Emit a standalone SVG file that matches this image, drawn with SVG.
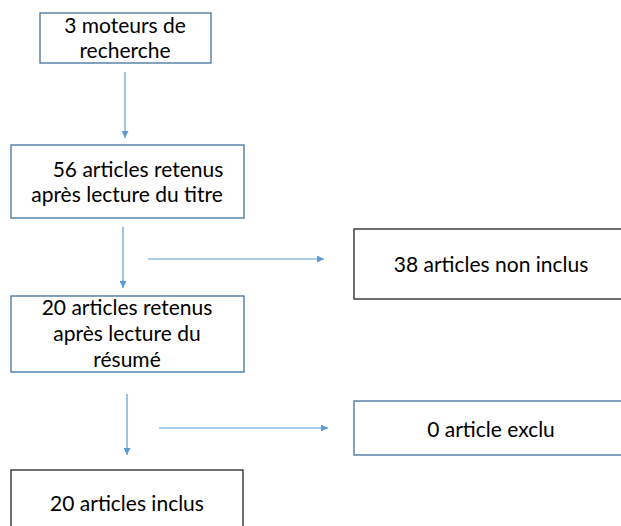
<svg xmlns="http://www.w3.org/2000/svg" width="621" height="526" viewBox="0 0 621 526">
<style>
.blue{fill:#fff;stroke:#41719C;stroke-width:1.3}
.dark{fill:#fff;stroke:#222;stroke-width:1.3}
.t{font-family:Lato,"Liberation Sans",sans-serif;font-size:21px;fill:#000;text-anchor:middle}
.c{stroke:#5B9BD5;stroke-width:1.2;fill:none;marker-end:url(#ah)}
</style>
<defs>
<marker id="ah" viewBox="0 0 10 10" refX="10" refY="5" markerWidth="7" markerHeight="7" markerUnits="userSpaceOnUse" orient="auto">
<path d="M0,0 L10,5 L0,10 z" fill="#5B9BD5"/>
</marker>
</defs>
<rect width="621" height="526" fill="#fff"/>
<g id="connectors">
<line class="c" x1="125" y1="72" x2="125" y2="138"/>
<line class="c" x1="123" y1="227" x2="123" y2="288"/>
<line class="c" x1="148" y1="259" x2="324" y2="259"/>
<line class="c" x1="127" y1="394" x2="127" y2="455"/>
<line class="c" x1="159" y1="428" x2="328" y2="428"/>
</g>
<g id="n1">
<rect class="blue" x="40" y="13" width="171" height="50"/>
<text class="t" x="125" y="33">3 moteurs de</text>
<text class="t" x="125" y="58">recherche</text>
</g>
<g id="n2">
<rect class="blue" x="11" y="145" width="233" height="73"/>
<text class="t" x="138" y="177">56 articles retenus</text>
<text class="t" x="127" y="202">après lecture du titre</text>
</g>
<g id="n3">
<rect class="dark" x="354" y="229" width="270" height="70"/>
<text class="t" x="491" y="272">38 articles non inclus</text>
</g>
<g id="n4">
<rect class="blue" x="11" y="296" width="233" height="76"/>
<text class="t" x="127" y="315">20 articles retenus</text>
<text class="t" x="127" y="341">après lecture du</text>
<text class="t" x="127" y="367">résumé</text>
</g>
<g id="n5">
<rect class="blue" x="354" y="401" width="270" height="54"/>
<text class="t" x="491" y="437">0 article exclu</text>
</g>
<g id="n6">
<rect class="dark" x="11" y="470" width="232" height="70"/>
<text class="t" x="127" y="511">20 articles inclus</text>
</g>
</svg>
